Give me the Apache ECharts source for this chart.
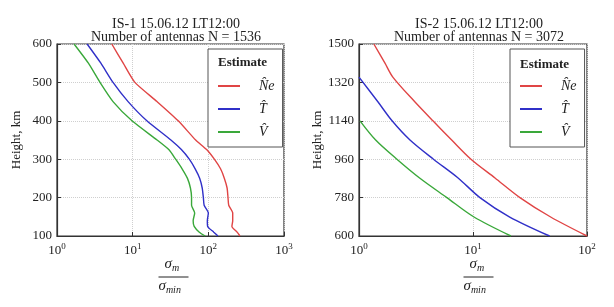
<!DOCTYPE html>
<html>
<head>
<meta charset="utf-8">
<script src="https://cdn.jsdelivr.net/npm/echarts@6/dist/echarts.min.js"></script>
<style>
  html, body { margin: 0; padding: 0; background: #fff; }
  #chart { width: 614px; height: 307px; }
</style>
</head>
<body>
<div id="chart"></div>
<script>
// left panel: IS-1, heights 100..600 km
const heights1 = [600, 550, 500, 450, 400, 350, 325, 300, 275, 250, 225, 200, 180, 160, 140, 125, 110, 100];
const ne1 = [5.3, 7.5, 10.7, 21, 40, 68, 95, 120, 145, 163, 177, 182, 186, 210, 210, 205, 240, 262];
const t1 = [2.5, 3.8, 5.5, 8.7, 15.4, 32, 44, 56, 67, 77, 83, 86, 88, 100, 97, 98, 118, 134];
const v1 = [1.68, 2.6, 3.7, 5.5, 9.8, 21, 30, 37, 45, 53, 58, 60, 60, 66, 63, 65, 76, 91];

// right panel: IS-2, heights 600..1500 km
const heights2 = [1500, 1410, 1345, 1228, 1140, 1050, 960, 872, 780, 689, 600];
const ne2 = [1.35, 1.69, 1.98, 3.1, 4.45, 6.5, 9.6, 15.6, 25.8, 48, 100];
const t2 = [null, null, 1.0, 1.47, 1.95, 2.8, 4.5, 7.4, 11.5, 21, 47];
const v2 = [null, null, null, null, 1.02, 1.4, 2.15, 3.4, 5.9, 10.2, 21.5];

const yTicks1 = [100, 200, 300, 400, 500, 600];
const yTicks2 = [600, 780, 960, 1140, 1320, 1500];
const names = ['N\u0302e', 'T\u0302', 'V\u0302'];
const colors = ['#e04545', '#3030c8', '#3aa83a'];

const serif = '"Liberation Serif", "DejaVu Serif", serif';

function pairs(xs, ys) {
  const out = [];
  for (let i = 0; i < xs.length; i++) {
    if (xs[i] != null) out.push([xs[i], ys[i]]);
  }
  return out;
}

const chart = echarts.init(document.getElementById('chart'));

const grids = [
  { left: 57, top: 44, width: 227, height: 192 },
  { left: 359, top: 44, width: 228, height: 192 },
];

function xAxis(gi, max) {
  return {
    type: 'log', logBase: 10, min: 1, max: max, gridIndex: gi,
    axisLine: { show: true, lineStyle: { color: '#333', width: 1.2 } },
    axisTick: { show: true, inside: true, length: 4, lineStyle: { color: '#333' } },
    minorTick: { show: false },
    splitLine: { show: true, lineStyle: { color: '#cfcfcf', type: 'dotted' } },
    axisLabel: {
      margin: 6,
      formatter: v => '{b|10}{s|' + Math.round(Math.log10(v)) + '}',
      rich: {
        b: { fontFamily: serif, fontSize: 13, color: '#222' },
        s: { fontFamily: serif, fontSize: 9, color: '#222', padding: [0, 0, 8, 0] },
      },
    },
  };
}

function yAxis(gi, ticks) {
  return {
    type: 'value', min: ticks[0], max: ticks[ticks.length - 1], interval: ticks[1] - ticks[0], gridIndex: gi,
    name: 'Height, km', nameLocation: 'middle', nameGap: 34,
    nameTextStyle: { fontFamily: serif, fontSize: 13, color: '#222' },
    axisLine: { show: true, lineStyle: { color: '#333', width: 1.2 } },
    axisTick: { show: true, inside: true, length: 4, lineStyle: { color: '#333' } },
    splitLine: { show: true, lineStyle: { color: '#cfcfcf', type: 'dotted' } },
    axisLabel: { fontFamily: serif, fontSize: 13, color: '#222', margin: 5, formatter: v => String(v) },
  };
}

function series(gi, xs, hs, i, smooth) {
  return {
    name: names[i], type: 'line', xAxisIndex: gi, yAxisIndex: gi,
    data: pairs(xs, hs), showSymbol: false, symbol: 'none', smooth: smooth,
    lineStyle: { color: colors[i], width: 1.4 },
    itemStyle: { color: colors[i] },
    clip: true, animation: false,
  };
}

function legend(left) {
  return {
    orient: 'vertical', left: left, top: 49, data: names,
    icon: 'rect', itemWidth: 22, itemHeight: 2, itemGap: 9,
    padding: [30, 8, 8, 10],
    borderColor: '#555', borderWidth: 1, backgroundColor: '#fff',
    selectedMode: false, z: 3,
    textStyle: { fontFamily: serif, fontStyle: 'italic', fontSize: 14, color: '#222', padding: [0, 0, 0, 14] },
  };
}

function fraction(cx) {
  const rich = {
    a: { fontFamily: serif, fontStyle: 'italic', fontSize: 15, fill: '#222' },
    b: { fontFamily: serif, fontStyle: 'italic', fontSize: 10, fill: '#222', padding: [7, 0, 0, 0] },
  };
  return {
    type: 'group', left: cx - 15, top: 257, z: 10,
    children: [
      { type: 'text', left: 6, top: 0, style: { text: '{a|σ}{b|m}', rich: rich } },
      { type: 'line', shape: { x1: 0, y1: 20, x2: 30, y2: 20 }, style: { stroke: '#222', lineWidth: 1 } },
      { type: 'text', left: 0, top: 22, style: { text: '{a|σ}{b|min}', rich: rich } },
    ],
  };
}

const titleStyle = { fontFamily: serif, fontWeight: 'normal', fontSize: 14, color: '#222', lineHeight: 13 };

chart.setOption({
  animation: false,
  title: [
    { text: 'IS-1 15.06.12 LT12:00\nNumber of antennas N = 1536', left: 171, top: 13, textAlign: 'center', textStyle: titleStyle },
    { text: 'IS-2 15.06.12 LT12:00\nNumber of antennas N = 3072', left: 474, top: 13, textAlign: 'center', textStyle: titleStyle },
  ],
  grid: grids.map(g => Object.assign({ show: true, borderColor: '#333', borderWidth: 1.2 }, g)),
  xAxis: [xAxis(0, 1000), xAxis(1, 100)],
  yAxis: [yAxis(0, yTicks1), yAxis(1, yTicks2)],
  legend: [legend(208), legend(510)],
  series: [
    series(0, ne1, heights1, 0, 0.2), series(0, t1, heights1, 1, 0.2), series(0, v1, heights1, 2, 0.2),
    series(1, ne2, heights2, 0, 0.3), series(1, t2, heights2, 1, 0.3), series(1, v2, heights2, 2, 0.3),
  ],
  graphic: [
    { type: 'text', left: 218, top: 56, z: 100, style: { text: 'Estimate', fontFamily: serif, fontWeight: 'bold', fontSize: 13, fill: '#222' } },
    { type: 'text', left: 520, top: 58, z: 100, style: { text: 'Estimate', fontFamily: serif, fontWeight: 'bold', fontSize: 13, fill: '#222' } },
    fraction(171),
    fraction(476),
  ],
});
</script>
</body>
</html>
